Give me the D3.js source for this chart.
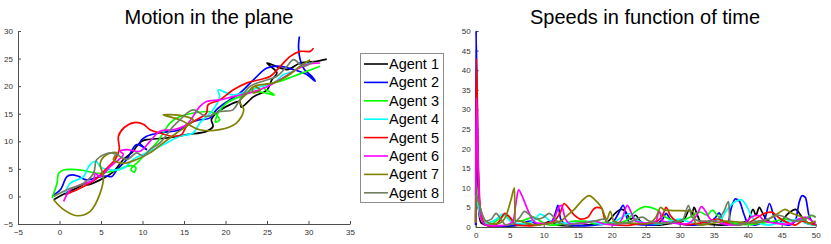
<!DOCTYPE html>
<html>
<head>
<meta charset="utf-8">
<script src="https://cdn.jsdelivr.net/npm/d3@7"></script>
<style>
  body { margin: 0; background: #fff; }
  svg { font-family: "Liberation Sans", Arial, Helvetica, sans-serif; }
  .axis path, .axis line { stroke: #4d4d4d; }
  .axis text { fill: #333; font-size: 8px; }
</style>
</head>
<body>
<div id="chart"></div>
<script>
// agents and colours
var agentNames = ["Agent 1", "Agent 2", "Agent 3", "Agent 4", "Agent 5", "Agent 6", "Agent 7", "Agent 8"];
var agentColors = ["#000000", "#0000ff", "#00ff00", "#00ffff", "#ff0000", "#ff00ff", "#808000", "#6f7f5f"];

// positions in the plane, [x, y]
var path1 = [[-0.7,-0.6],[0.9,0.7],[2.2,1.6],[3.2,2.4],[3.3,2.1],[4.9,3.0],[6.5,4.5],[7.7,6.7],[8.9,8.2],[9.3,9.1],[9.9,10],[10.5,10.3],[12.9,10.6],[15.3,11.2],[17.7,11.8],[18.5,12.7],[18.3,13.9],[18.9,15.1],[20.5,16.6],[21.7,17.2],[21.9,16.2],[23.4,18.1],[25,19.3],[25.6,21.2],[26.2,22.4],[25,24.2],[27.4,23],[29,24.2],[31,24.5],[32.2,24.9]];
var path2 = [[-0.9,0.1],[0.1,1.2],[0.9,3.6],[1.5,3.9],[2.2,3.7],[3.3,3],[4.9,3.6],[5.7,3.7],[6.3,3.6],[6.9,4.8],[8.1,6.7],[9.3,9.4],[10.5,8.5],[9.7,9.7],[10.5,10.9],[12.1,11.5],[14.5,12.1],[15.7,13.3],[16.9,13.9],[18.1,14.2],[18.9,15.7],[20.2,17.2],[21.7,18.7],[23.4,21.2],[25,23.3],[26.6,23.6],[28.2,23],[29.8,22.1],[30.8,20.9],[30.4,21.8],[29.5,23],[29,24.8],[28.8,27],[28.9,29]];
var path3 = [[-0.9,-0.3],[-0.3,2.4],[-0.1,4.2],[0.5,4.8],[1.3,4.9],[2.9,4.7],[4.5,4.2],[6.1,4.5],[7.3,5],[8.5,5.6],[9.2,5.2],[9.0,4.4],[8.6,4.9],[9.5,6.3],[10.5,7.9],[11.7,9.7],[12.5,11.5],[13.3,13.3],[14.5,14.5],[16.1,15.1],[17.7,15.4],[18.5,15.2],[19.3,13.9],[18.8,13.5],[19.1,15.1],[20.1,16.9],[21.7,18.1],[23.4,19],[25,18.7],[25.9,18.4],[24.5,19.9],[26.6,20.9],[28.2,21.8],[29.8,22.7],[31.4,23.6]];
var path4 = [[0.7,0.6],[1.3,2.4],[2.9,3.6],[3.5,5.4],[4.1,6.3],[4.5,6.3],[4.9,5.4],[6.1,4.8],[7.7,5.1],[8.9,6.7],[10.5,7.9],[11.7,8.8],[12.9,9.7],[14.5,10.9],[16.1,11.5],[16.9,13.3],[18.5,15.7],[19.3,18.1],[19.1,19.3],[20.9,18.4],[22.6,19],[24.2,19.9],[25.8,20.6],[27,22.1],[28.2,22.7],[29,23.6],[30.2,24.2]];
var path5 = [[0.7,0.3],[2.1,1.2],[3.3,2.1],[4.5,3.3],[5.7,5.1],[6.7,6.7],[7.2,8.5],[7.1,10.9],[7.8,12.5],[9,13.4],[10.1,13.1],[10.9,12.1],[12.1,11.5],[13.7,10.9],[14.7,11.2],[15.3,12.7],[16.5,13.9],[17.7,15.1],[17.9,16.6],[19.3,17.5],[20.9,19.3],[22.6,20.6],[24.2,21.2],[25.4,21.8],[26.6,23.6],[27.8,25.4],[29,26.3],[30.2,26.3],[30.6,26.9]];
var path6 = [[0.5,-0.9],[1.3,1.2],[2.5,2.1],[4.1,3],[4.3,4.2],[4.9,3.6],[6.1,5.4],[7.7,7.6],[7.3,8.2],[8.1,8.5],[9.7,8.2],[10.9,10],[12.1,11.8],[13.7,12.1],[15.3,13],[16.9,16.3],[17.7,17.2],[19.3,17.5],[20.9,18.1],[23.4,19],[25,19.9],[26.6,21.2],[28.2,22.7],[29.8,23.9],[31.4,24.2]];
var path7 = [[-0.7,-0.6],[0.5,-2.4],[2.1,-3.5],[3.7,-2.7],[4.9,0.6],[5.3,3.6],[4.9,6],[5.7,7.6],[6.9,7.9],[6.5,6.7],[7.7,6],[9.3,6.7],[10.9,7.9],[12.5,9.7],[14.1,11.5],[15.3,12.7],[16.1,13.9],[14.8,14.6],[12.5,14.8],[14.5,13.9],[16.9,12.1],[19.3,12.1],[21.3,13.3],[22.2,15.7],[21.7,17.2],[22.6,18.7],[23.4,19.9],[24.2,19.3],[23.3,18.8],[23.4,19.9],[25.8,20.6],[27.4,21.8],[29,23.6],[30.2,24.8]];
var path8 = [[-0.7,0],[0.9,1.2],[2.9,2.4],[4.1,4.2],[4.5,6.7],[6.1,7.9],[6.9,7.6],[8.1,6.7],[9.3,7.9],[10.1,7.3],[10.9,8.5],[12.1,9.7],[13.7,12.7],[14.5,13.9],[16.1,15.7],[17.7,14.5],[19.3,15.4],[20.9,15.7],[21.7,17.5],[22.9,19.9],[24.5,20.9],[26.2,21.8],[27.4,23.6],[28.2,24.8],[29.4,23.6],[30.6,24.5]];

// speeds, [t, v]
var speed1 = [[0,0.5],[0.1,18],[0.4,5],[0.8,1],[2,0.3],[4,0.2],[6,0.4],[8,0.5],[10,0.8],[11,1.5],[12,0.5],[14,0.3],[16,0.5],[18,0.7],[19.5,1.5],[20.5,3.5],[21.5,4.5],[22,4],[22.8,2],[23.5,3],[24.2,1.5],[25,0.8],[27,0.5],[29,1],[30.5,1.5],[31.5,4.5],[31.8,3],[32.1,5],[32.5,3.5],[33,1.5],[34,0.7],[36,0.5],[38,0.8],[40,1.5],[40.8,4.5],[41.2,3],[41.7,5],[42.2,3.5],[43,1.5],[44.5,1],[46,3.5],[47,4.5],[47.8,3],[48.5,1],[50,0.5]];
var speed2 = [[0,0.5],[0.05,50],[0.3,20],[0.6,5],[1,1.5],[2,0.5],[4,0.3],[6,0.4],[8,1.5],[9,0.8],[11,1],[11.8,4],[12.1,5.5],[12.5,2],[13.5,0.5],[16,0.3],[18,0.6],[20,1],[21,3.5],[21.7,5.5],[22.3,2],[23,0.8],[26,0.5],[27.5,2],[28,3.5],[28.6,2],[30,0.8],[32,0.5],[34,1],[35.3,2.5],[35.8,3.6],[36.3,1.5],[37,0.5],[37.6,5],[38.2,7.2],[38.8,6.5],[39.5,3],[40,1],[41,0.5],[42.5,2],[43.2,6],[43.8,3],[44.5,1],[46,0.5],[47,1.5],[47.6,6.5],[48,8],[48.5,7.5],[49,3],[50,0.5]];
var speed3 = [[0,12],[0.1,11],[0.5,4],[1,1.5],[2,0.5],[3,1.5],[4.3,3],[5,2],[6.5,1.5],[7.5,2],[8.5,2.5],[9.5,1.5],[11,0.5],[13,0.8],[14.5,1.5],[16,1.5],[17.5,0.8],[19,1.2],[20.5,1],[22,1.5],[23.5,4],[25,5.2],[26.5,4.5],[27.5,3],[28.5,2],[30,1.5],[31.5,2.5],[33,3.8],[34,3],[34.8,4.3],[35.5,3],[36.5,1.5],[38,1],[40,0.6],[42,1],[44,1.5],[45.5,2],[47,1.5],[48.5,2],[49.5,3],[50,2.5]];
var speed4 = [[0,8],[0.3,6],[0.8,2],[1.5,1],[3,2],[4,3.3],[4.8,2],[5.5,1],[7,0.8],[8.5,1.5],[9.5,3.3],[10.3,2.5],[11,1.5],[12.5,1],[14,1],[15.5,0.8],[17,1.5],[18.5,0.7],[20,1],[21.5,2.5],[22.8,3.5],[23.5,2],[25,1],[27,0.8],[28.5,1.5],[30,2],[31.5,1.2],[33,0.8],[34.5,1.5],[36,2],[37,4.5],[38.2,6.5],[39,7],[39.8,5.5],[40.5,3],[41.5,1],[43,0.5],[44.5,1],[46,1.5],[47.5,2],[48.5,1],[50,0.5]];
var speed5 = [[0,1],[0.1,43],[0.4,15],[0.8,3],[1.5,0.5],[2.5,0.2],[3.5,1.5],[4.3,3.5],[5,2.5],[6,0.5],[8,0.3],[10,0.8],[11.5,1.5],[12.5,4],[13,6],[13.6,5],[14.5,3],[15.5,2],[16.5,2.5],[17.3,4.5],[17.8,5],[18.5,4.8],[19,2],[20,0.6],[22,0.4],[24,0.8],[26,1],[27.5,3],[28,5],[28.6,3],[29.5,1.5],[31,0.6],[33,1],[34.5,1.5],[35.5,2],[37,1],[38,0.5],[40,1],[41.5,2.5],[42.5,3.5],[43.5,3.8],[44.5,2.5],[46,1],[47,0.5],[48,1.5],[49,1],[50,0.6]];
var speed6 = [[0,1],[0.1,33],[0.4,12],[0.8,2],[1.5,0.5],[3,0.3],[4.5,0.5],[5.5,1.5],[6,7],[6.3,9.5],[6.8,8],[7.5,5],[8.3,2],[9,1],[10.5,0.8],[11.5,2],[12.2,5],[12.6,5.5],[13.2,2],[14,0.8],[16,1],[17.5,1.5],[19,0.7],[20.5,0.5],[21.5,2],[22.3,5.5],[22.8,4],[23.5,1.5],[25,1],[26.5,1.5],[27,4],[27.5,1.5],[29,1],[31,0.8],[32.5,3],[33.2,5.2],[33.8,4],[34.5,2],[36,1],[38,0.5],[39.5,1],[40.5,2.5],[41.5,3],[42.5,1.5],[44,1],[46,0.7],[47.5,2],[48.5,2.5],[49.5,1.5],[50,1]];
var speed7 = [[0,1],[0.05,8],[0.5,6],[1,3],[1.5,1.5],[2.5,0.8],[3.5,1],[4.5,3],[5.2,7],[5.7,10],[5.8,1.5],[6.5,1.5],[7.5,1],[9,0.5],[11,1],[12.5,1.5],[13.5,3],[14.5,4.5],[15.5,6.5],[16.7,8],[17.5,7],[18.5,5],[19.3,2],[19.8,4],[20.3,1.5],[21.5,1],[23,1],[25,0.8],[26.5,2.5],[27.2,5],[27.8,4.3],[29,4.2],[31,4.1],[32,4],[32.3,1],[33,0.5],[35,1],[37,1.5],[39,1.2],[41,1],[43,2],[44.5,3.5],[45.5,4.5],[46.5,3.5],[48,2.5],[49,1],[50,1.5]];
var speed8 = [[0,8],[0.3,7],[1,3],[1.5,1.5],[2.3,2],[3,3.5],[3.7,2],[4.5,0.5],[5.5,0.8],[6.5,2.5],[7.2,4],[8,3],[9,2],[10,2.5],[10.8,3.5],[11.5,2.5],[12.3,1],[13.5,0.5],[15,1],[17,1.3],[19,2],[19.5,1],[21,0.8],[23,1.5],[24.5,2.5],[25.5,1.5],[27,1],[29,1.2],[30.5,2],[31.3,5.5],[31.8,2.5],[33,1.5],[35,1.5],[36.5,4],[37.2,6.5],[37.4,1],[38.5,0.5],[40,1],[41.5,1.5],[43,2],[44.5,3],[45.5,2.5],[47,1.5],[48.5,2],[49.2,3],[50,2.5]];

var paths = [path1, path2, path3, path4, path5, path6, path7, path8];
var speeds = [speed1, speed2, speed3, speed4, speed5, speed6, speed7, speed8];

var planeXTicks = [-5, 0, 5, 10, 15, 20, 25, 30, 35];
var planeYTicks = [-5, 0, 5, 10, 15, 20, 25, 30];
var timeTicks = [0, 5, 10, 15, 20, 25, 30, 35, 40, 45, 50];
var speedTicks = [0, 5, 10, 15, 20, 25, 30, 35, 40, 45, 50];

var svg = d3.select("#chart").append("svg")
    .attr("width", 831)
    .attr("height", 244);

// ---- left: motion in the plane
var left = { x0: 18, x1: 350, y0: 31, y1: 224 };

var xPlane = d3.scaleLinear().domain([-5, 35]).range([left.x0, left.x1]);
var yPlane = d3.scaleLinear().domain([-5, 30]).range([left.y1, left.y0]);

svg.append("g")
    .attr("class", "axis")
    .attr("transform", "translate(0," + left.y1 + ")")
    .call(d3.axisBottom(xPlane).tickValues(planeXTicks).tickSizeInner(-3).tickSizeOuter(0).tickPadding(5));
svg.append("g")
    .attr("class", "axis")
    .attr("transform", "translate(" + left.x0 + ",0)")
    .call(d3.axisLeft(yPlane).tickValues(planeYTicks).tickSizeInner(-3).tickSizeOuter(0).tickPadding(5));

var planeLine = d3.line()
    .x(d => xPlane(d[0]))
    .y(d => yPlane(d[1]))
    .curve(d3.curveCatmullRom.alpha(0.5));

svg.append("g").selectAll("path.traj")
    .data(paths)
    .enter().append("path")
    .attr("class", "traj")
    .attr("d", planeLine)
    .attr("fill", "none")
    .attr("stroke", (d, i) => agentColors[i])
    .attr("stroke-width", 1.7)
    .attr("stroke-linejoin", "round");

svg.append("text")
    .attr("x", 209)
    .attr("y", 24)
    .attr("text-anchor", "middle")
    .attr("font-size", 20)
    .text("Motion in the plane");

// legend
var legend = svg.append("g");
legend.append("rect")
    .attr("x", 360.5).attr("y", 53.5)
    .attr("width", 83).attr("height", 149)
    .attr("fill", "#fff")
    .attr("stroke", "#8c8c8c");

var rows = legend.selectAll("g.row")
    .data(agentNames)
    .enter().append("g")
    .attr("class", "row")
    .attr("transform", (d, i) => "translate(0," + (64 + i * 18.4) + ")");
rows.append("line")
    .attr("x1", 364).attr("x2", 388)
    .attr("stroke", (d, i) => agentColors[i])
    .attr("stroke-width", 1.6);
rows.append("text")
    .attr("x", 389)
    .attr("dy", "0.35em")
    .attr("font-size", 14.5)
    .text(d => d);

// ---- right: speeds in function of time
var right = { x0: 475.7, x1: 815.7, y0: 31, y1: 227 };

var xTime = d3.scaleLinear().domain([0, 50]).range([right.x0, right.x1]);
var ySpeed = d3.scaleLinear().domain([0, 50]).range([right.y1, right.y0]);

svg.append("g")
    .attr("class", "axis")
    .attr("transform", "translate(0," + right.y1 + ")")
    .call(d3.axisBottom(xTime).tickValues(timeTicks).tickSizeInner(-3).tickSizeOuter(0).tickPadding(5));
svg.append("g")
    .attr("class", "axis")
    .attr("transform", "translate(" + right.x0 + ",0)")
    .call(d3.axisLeft(ySpeed).tickValues(speedTicks).tickSizeInner(-3).tickSizeOuter(0).tickPadding(5));

var speedLine = d3.line()
    .x(d => xTime(d[0]))
    .y(d => ySpeed(d[1]))
    .curve(d3.curveMonotoneX);

svg.append("g").selectAll("path.speed")
    .data(speeds)
    .enter().append("path")
    .attr("class", "speed")
    .attr("d", speedLine)
    .attr("fill", "none")
    .attr("stroke", (d, i) => agentColors[i])
    .attr("stroke-width", 1.7)
    .attr("stroke-linejoin", "round");

svg.append("text")
    .attr("x", 645)
    .attr("y", 24)
    .attr("text-anchor", "middle")
    .attr("font-size", 20)
    .text("Speeds in function of time");
</script>
</body>
</html>
